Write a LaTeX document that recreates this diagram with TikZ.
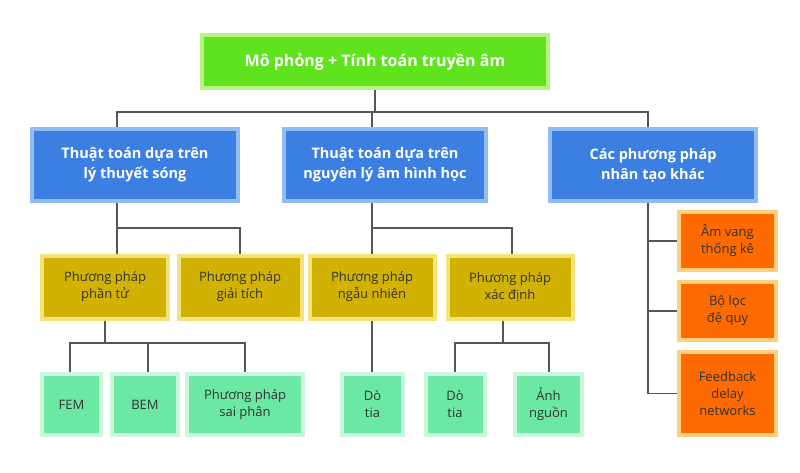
\documentclass[tikz,border=0pt]{standalone}
\usepackage{fontspec}
\setmainfont{Open Sans}
\definecolor{topf}{HTML}{5EE31C}\definecolor{topb}{HTML}{B8F283}
\definecolor{bluef}{HTML}{3B7FE2}\definecolor{blueb}{HTML}{93BCF2}
\definecolor{yelf}{HTML}{D2B200}\definecolor{yelb}{HTML}{F5E27E}
\definecolor{grnf}{HTML}{6BE8A3}\definecolor{grnb}{HTML}{CDF7DD}
\definecolor{orf}{HTML}{FF6A00}\definecolor{orb}{HTML}{FFCF7E}
\definecolor{txt}{HTML}{333333}\definecolor{lin}{HTML}{555555}
\tikzset{
 box/.style={draw, line width=4pt, align=center, inner sep=0pt, font=\fontsize{13}{17}\selectfont},
 topbox/.style={box, fill=topf, draw=topb, text=white, font=\fontsize{16}{20}\selectfont\bfseries},
 bluebox/.style={box, fill=bluef, draw=blueb, text=white, font=\fontsize{14.5}{20}\selectfont\bfseries},
 yelbox/.style={box, fill=yelf, draw=yelb, text=txt},
 grnbox/.style={box, fill=grnf, draw=grnb, text=txt},
 orbox/.style={box, fill=orf, draw=orb, text=txt},
 conn/.style={draw=lin, line width=1.3pt}
}
\newcommand{\bx}[7]{\node[#1, minimum width=#4pt-4pt, minimum height=#5pt-4pt] (#2) at (#3) {#6};}
\begin{document}
\begin{tikzpicture}[x=1pt,y=-1pt]
\useasboundingbox (0,0) rectangle (800,472);
\node[topbox, minimum width=346pt, minimum height=53pt] (top) at (375,61.5) {Mô phỏng + Tính toán truyền âm};
\node[bluebox, minimum width=206pt, minimum height=72pt] (b1) at (135,165) {Thuật toán dựa trên\\lý thuyết sóng};
\node[bluebox, minimum width=202pt, minimum height=72pt] (b2) at (385,165) {Thuật toán dựa trên\\nguyên lý âm hình học};
\node[bluebox, minimum width=206pt, minimum height=72pt] (b3) at (653,165) {Các phương pháp\\nhân tạo khác};
\node[yelbox, minimum width=126pt, minimum height=63pt] (y1) at (105,287) {Phương pháp\\phần tử};
\node[yelbox, minimum width=123pt, minimum height=63pt] (y2) at (240,287) {Phương pháp\\giải tích};
\node[yelbox, minimum width=125pt, minimum height=63pt] (y3) at (372,287) {Phương pháp\\ngẫu nhiên};
\node[yelbox, minimum width=125pt, minimum height=63pt] (y4) at (510,287) {Phương pháp\\xác định};
\node[grnbox, minimum width=59pt, minimum height=61pt] (g1) at (71.5,404.5) {FEM};
\node[grnbox, minimum width=66pt, minimum height=61pt] (g2) at (145,404.5) {BEM};
\node[grnbox, minimum width=116pt, minimum height=61pt] (g3) at (245,404.5) {Phương pháp\\sai phân};
\node[grnbox, minimum width=61pt, minimum height=61pt] (g4) at (372.5,404.5) {Dò\\tia};
\node[grnbox, minimum width=59pt, minimum height=61pt] (g5) at (455,404.5) {Dò\\tia};
\node[grnbox, minimum width=67pt, minimum height=61pt] (g6) at (548.5,404.5) {Ảnh\\nguồn};
\node[orbox, minimum width=97pt, minimum height=58pt] (o1) at (727.5,241) {Âm vang\\thống kê};
\node[orbox, minimum width=97pt, minimum height=58pt] (o2) at (727.5,311) {Bộ lọc\\đệ quy};
\node[orbox, minimum width=97pt, minimum height=83pt] (o3) at (727.5,393.5) {Feedback\\delay\\networks};
% connectors
\draw[conn] (top.south) -- ++(0,22) coordinate (t1);
\draw[conn] (b1.north -| 117,0) |- (t1) -| (b3.north -| 648,0);
\draw[conn] (t1 -| 372,0) -- (b2.north -| 372,0);
\draw[conn] (b1.south -| 117,0) -- (y1.north -| 117,0);
\draw[conn] (117,228) -| (y2.north);
\draw[conn] (b2.south -| 372,0) -- (y3.north);
\draw[conn] (372,228) -| (y4.north -| 512,0);
\draw[conn] (y1.south) -- (105,343);
\draw[conn] (g1.north -| 70,0) |- (105,343) -| (g3.north);
\draw[conn] (148,343) -- (g2.north -| 148,0);
\draw[conn] (y3.south) -- (g4.north -| 372,0);
\draw[conn] (y4.south -| 503,0) -- (503,343);
\draw[conn] (g5.north) |- (503,343) -| (g6.north -| 549,0);
\draw[conn] (b3.south -| 648,0) |- (o3.west);
\draw[conn] (648,0 |- o1.west) -- (o1.west);
\draw[conn] (648,0 |- o2.west) -- (o2.west);
\end{tikzpicture}
\end{document}
